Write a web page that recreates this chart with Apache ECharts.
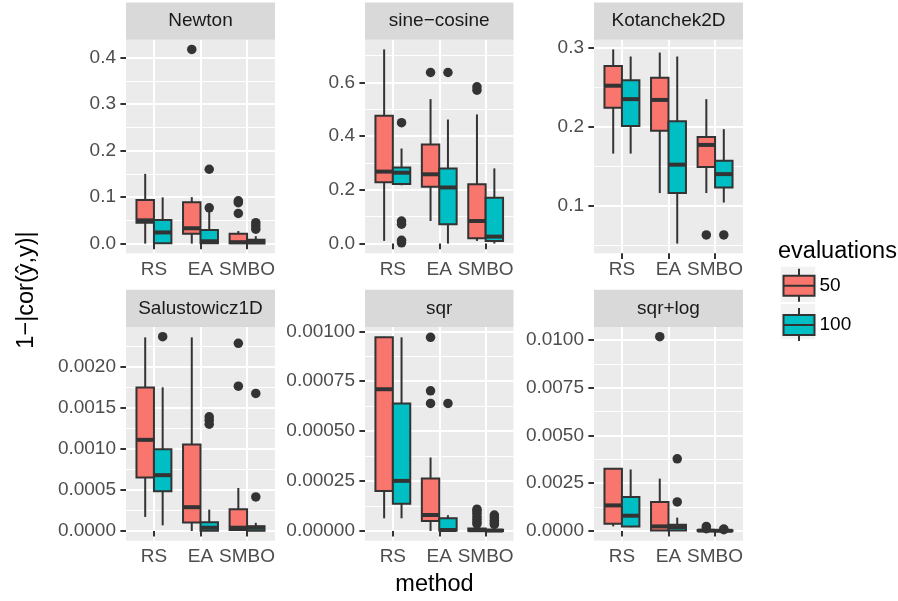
<!DOCTYPE html>
<html><head><meta charset="utf-8">
<script src="https://cdn.jsdelivr.net/npm/echarts@6/dist/echarts.min.js"></script>
<style>html,body{margin:0;padding:0;background:#fff}#c{width:898px;height:601px}</style>
</head><body><div id="c"></div>
<script>
// ---------- data ----------
const methods = ['RS', 'EA', 'SMBO'];
const groups = ['50', '100'];
const panelNames = ['Newton', 'sine−cosine', 'Kotanchek2D', 'Salustowicz1D', 'sqr', 'sqr+log'];

// each row: [min, Q1, median, Q3, max] for RS, EA, SMBO
const newton50 = [[0, 0.045, 0.050, 0.094, 0.150], [0, 0.021, 0.033, 0.089, 0.100], [0, 0.0005, 0.003, 0.021, 0.027]];
const newton100 = [[0, 0.0005, 0.024, 0.051, 0.0996], [0, 0.001, 0.005, 0.029, 0.068], [0, 0.0003, 0.004, 0.008, 0.016]];
const newtonOut50 = [[], [0.418], [0.065, 0.088, 0.092]];
const newtonOut100 = [[], [0.077, 0.160], [0.031, 0.038, 0.045]];
const newtonTicks = [0, 0.1, 0.2, 0.3, 0.4];

const sine50 = [[0.010, 0.228, 0.268, 0.476, 0.723], [0.084, 0.212, 0.258, 0.369, 0.538], [0.010, 0.020, 0.084, 0.221, 0.481]];
const sine100 = [[0.217, 0.222, 0.264, 0.283, 0.354], [0.0, 0.072, 0.209, 0.280, 0.462], [0.0, 0.010, 0.026, 0.171, 0.280]];
const sineOut50 = [[], [0.637], [0.571, 0.584]];
const sineOut100 = [[0.450, 0.084, 0.072, 0.012, 0.003], [0.637], []];
const sineTicks = [0, 0.2, 0.4, 0.6];

const kot50 = [[0.166, 0.224, 0.252, 0.277, 0.298], [0.116, 0.195, 0.234, 0.262, 0.294], [0.116, 0.149, 0.177, 0.187, 0.235]];
const kot100 = [[0.166, 0.201, 0.235, 0.259, 0.289], [0.052, 0.116, 0.152, 0.207, 0.289], [0.104, 0.123, 0.140, 0.157, 0.197]];
const kotOut50 = [[], [], [0.063]];
const kotOut100 = [[], [], [0.063]];
const kotTicks = [0.1, 0.2, 0.3];

const salu50 = [[0.000171, 0.00065, 0.00111, 0.001748, 0.002358], [0, 0.000102, 0.00029, 0.001053, 0.002358], [0, 0.000012, 0.00004, 0.000266, 0.000524]];
const salu100 = [[0.000069, 0.000484, 0.00068, 0.000994, 0.00175], [0, 0.000002, 0.00004, 0.000106, 0.00026], [0, 0.000003, 0.00004, 0.000057, 0.0001]];
const saluOut50 = [[], [], [0.002285, 0.001764]];
const saluOut100 = [[0.002366], [0.0013, 0.00135, 0.00139], [0.001675, 0.000415]];
const saluTicks = [0, 0.0005, 0.001, 0.0015, 0.002];

const sqr50 = [[0.0000635, 0.0002, 0.00071, 0.00097, 0.000973], [0, 0.00005, 0.00008, 0.000263, 0.000368], [0, 0.000001, 0.000004, 0.000012, 0.000025]];
const sqr100 = [[0.0000635, 0.000137, 0.000251, 0.000639, 0.00097], [0, 0.000002, 0.000005, 0.000064, 0.000079], [0, 0, 0.000002, 0.000006, 0.000012]];
const sqrOut50 = [[], [0.00097, 0.000702, 0.000639], [0.000109, 0.0001, 0.000087, 0.000072, 0.000059, 0.000045, 0.000035]];
const sqrOut100 = [[], [0.000639], [0.00008, 0.000068, 0.000054, 0.000042, 0.000033]];
const sqrTicks = [0, 0.00025, 0.0005, 0.00075, 0.001];

const slog50 = [[0.00024, 0.00038, 0.00134, 0.003258, 0.00329], [0, 0.00003, 0.00024, 0.00152, 0.00274], [0, 0.000005, 0.00002, 0.00005, 0.00008]];
const slog100 = [[0.0002, 0.00024, 0.0008, 0.00178, 0.00322], [0, 0.00003, 0.0002, 0.00033, 0.0007], [0, 0.000003, 0.00001, 0.00003, 0.00005]];
const slogOut50 = [[], [0.01017], [0.00024, 0.00012]];
const slogOut100 = [[], [0.00378, 0.00152], [0.0001, 0.00007]];
const slogTicks = [0, 0.0025, 0.005, 0.0075, 0.01];

const tickDecimals = [1, 1, 1, 4, 5, 4];

// ---------- build ----------
const panels = [
  {s: [newton50, newton100], o: [newtonOut50, newtonOut100], ticks: newtonTicks},
  {s: [sine50, sine100], o: [sineOut50, sineOut100], ticks: sineTicks},
  {s: [kot50, kot100], o: [kotOut50, kotOut100], ticks: kotTicks},
  {s: [salu50, salu100], o: [saluOut50, saluOut100], ticks: saluTicks},
  {s: [sqr50, sqr100], o: [sqrOut50, sqrOut100], ticks: sqrTicks},
  {s: [slog50, slog100], o: [slogOut50, slogOut100], ticks: slogTicks}
];
const fills = ['#F8766D', '#00BFC4'];
const offsets = [-0.1875, 0.1875];
const HW = 0.1875;
const FONT = 'Liberation Sans, Arial, Helvetica, sans-serif';
const FS = 19, TFS = 23.5;
const cols = [{l: 126, w: 149}, {l: 365, w: 148.5}, {l: 594, w: 149}];
const rows = [{t: 39.7, h: 213.6}, {t: 327, h: 213.7}];
const STRIP_H = 37.2;
const LW = 2, MLW = 4;

const grids = [], xAxes = [], yAxes = [], series = [], graphics = [];
const tickStyle = {color: '#333333', width: 2};

panels.forEach((p, i) => {
  const c = cols[i % 3], r = rows[Math.floor(i / 3)];
  grids.push({left: c.l, top: r.t, width: c.w, height: r.h, show: true,
    backgroundColor: '#EBEBEB', borderWidth: 0, borderColor: 'transparent'});
  const all = [].concat(...p.s[0], ...p.s[1], ...p.o[0], ...p.o[1]);
  const lo = Math.min(...all), hi = Math.max(...all), pad = (hi - lo) * 0.05;
  const ymin = lo - pad, ymax = hi + pad;
  const step = p.ticks[1] - p.ticks[0];
  const minors = [p.ticks[0] - step / 2].concat(p.ticks.map(t => t + step / 2));

  xAxes.push({type: 'value', gridIndex: i, min: 0.4, max: 3.6,
    axisLine: {show: false},
    axisTick: {show: true, customValues: [1, 2, 3], length: 5.6, lineStyle: tickStyle},
    axisLabel: {customValues: [1, 2, 3], formatter: v => methods[Math.round(v) - 1],
      color: '#4D4D4D', fontSize: FS, margin: 7, fontFamily: FONT},
    splitLine: {show: true, lineStyle: {color: '#FFFFFF', width: 2}}});
  yAxes.push({type: 'value', gridIndex: i, min: ymin, max: ymax, position: 'left',
    axisLine: {show: false},
    axisTick: {show: true, customValues: p.ticks, length: 5.6, lineStyle: tickStyle},
    axisLabel: {customValues: p.ticks, formatter: v => v.toFixed(tickDecimals[i]),
      color: '#4D4D4D', fontSize: FS, margin: 10, fontFamily: FONT},
    splitLine: {show: true, lineStyle: {color: '#FFFFFF', width: 2}}});
  yAxes.push({type: 'value', gridIndex: i, min: ymin, max: ymax, position: 'left',
    axisLine: {show: false},
    axisTick: {show: false, customValues: minors},
    axisLabel: {show: false},
    splitLine: {show: true, lineStyle: {color: '#FFFFFF', width: 1}}});

  groups.forEach((g, gi) => {
    const off = offsets[gi];
    series.push({type: 'custom', name: g, xAxisIndex: i, yAxisIndex: 2 * i,
      itemStyle: {color: fills[gi]}, silent: true, z: 2,
      encode: {x: 0, y: [1, 2, 3, 4, 5]},
      data: p.s[gi].map((s, k) => [k + 1].concat(s)),
      renderItem: (params, api) => {
        const xc = api.value(0) + off;
        const y = [1, 2, 3, 4, 5].map(d => api.coord([xc, api.value(d)])[1]);
        const cx = api.coord([xc, 0])[0];
        const xl = api.coord([xc - HW, 0])[0], xr = api.coord([xc + HW, 0])[0];
        const st = {stroke: '#333333', lineWidth: LW};
        return {type: 'group', children: [
          {type: 'line', shape: {x1: cx, y1: y[3], x2: cx, y2: y[4]}, style: st},
          {type: 'line', shape: {x1: cx, y1: y[1], x2: cx, y2: y[0]}, style: st},
          {type: 'rect', shape: {x: xl, y: y[3], width: xr - xl, height: y[1] - y[3]},
            style: {fill: fills[gi], stroke: '#333333', lineWidth: LW}},
          {type: 'line', shape: {x1: xl, y1: y[2], x2: xr, y2: y[2]},
            style: {stroke: '#333333', lineWidth: MLW}}
        ]};
      }});
    series.push({type: 'scatter', name: 'out' + g, xAxisIndex: i, yAxisIndex: 2 * i,
      symbolSize: 9.5, silent: true, z: 3,
      itemStyle: {color: '#333333', opacity: 1},
      data: p.o[gi].flatMap((arr, k) => arr.map(v => [k + 1 + off, v]))});
  });

  graphics.push({type: 'rect', shape: {x: c.l, y: r.t - STRIP_H, width: c.w, height: STRIP_H},
    style: {fill: '#D9D9D9'}, z: 1});
  graphics.push({type: 'text', x: c.l + c.w / 2, y: r.t - STRIP_H / 2, z: 2,
    style: {text: panelNames[i], fill: '#1A1A1A', fontSize: FS, fontFamily: FONT,
      textAlign: 'center', textVerticalAlign: 'middle'}});
});

// axis titles
graphics.push({type: 'text', x: 434.5, y: 585, style: {text: 'method', fill: '#000',
  fontSize: TFS, fontFamily: FONT, textAlign: 'center', textVerticalAlign: 'middle'}});
graphics.push({type: 'text', x: 27, y: 290, rotation: Math.PI / 2, style: {text: '1−|cor(ŷ,y)|',
  fill: '#000', fontSize: TFS, fontFamily: FONT, textAlign: 'center', textVerticalAlign: 'middle'}});
// legend title + key backgrounds
graphics.push({type: 'text', x: 778, y: 252, style: {text: 'evaluations', fill: '#000',
  fontSize: TFS, fontFamily: FONT, textAlign: 'left', textVerticalAlign: 'middle'}});
graphics.push({type: 'rect', shape: {x: 780.7, y: 266.7, width: 34.5, height: 35.2}, style: {fill: '#F2F2F2'}, z: -1});
graphics.push({type: 'rect', shape: {x: 780.7, y: 304, width: 34.5, height: 35.2}, style: {fill: '#F2F2F2'}, z: -1});

const chart = echarts.init(document.getElementById('c'));
chart.setOption({
  animation: false,
  backgroundColor: '#FFFFFF',
  grid: grids, xAxis: xAxes, yAxis: yAxes, series: series,
  legend: {data: groups, orient: 'vertical', left: 782.5, top: 267.8, padding: 0,
    itemWidth: 31, itemHeight: 33, itemGap: 4.3, selectedMode: false,
    icon: 'path://M15.5,0L15.5,7M0,7L31,7L31,27L0,27ZM0,17L31,17M15.5,27L15.5,33',
    itemStyle: {borderColor: '#333333', borderWidth: LW},
    textStyle: {fontSize: FS, color: '#000', fontFamily: FONT}},
  graphic: graphics
});
</script></body></html>
